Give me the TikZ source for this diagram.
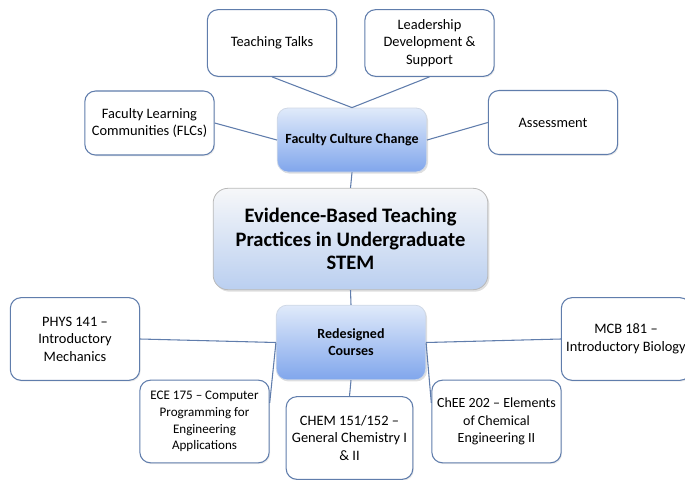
\documentclass[tikz,border=0pt]{standalone}
\usepackage{fontspec}
\setmainfont{Carlito}
\usetikzlibrary{shadows}

\definecolor{edgeblue}{RGB}{96,125,172}
\definecolor{hubtop}{RGB}{224,234,250}
\definecolor{hubbottom}{RGB}{128,166,236}
\definecolor{coretop}{RGB}{246,247,249}
\definecolor{corebottom}{RGB}{186,207,240}

\tikzset{
    leafbox/.style={draw=edgeblue, line width=0.8pt, fill=white, rounded corners=8pt,
        align=center, font=\fontsize{10.8}{13.2}\selectfont, inner sep=1pt,
        minimum width=97pt,
        drop shadow={shadow xshift=0.8pt, shadow yshift=-1pt, opacity=0.15}},
    hubbox/.style={draw=white!70!edgeblue, line width=0.6pt, rounded corners=8pt,
        top color=hubtop, bottom color=hubbottom, align=center,
        font=\bfseries\fontsize{10.5}{12.8}\selectfont,
        minimum width=112pt, minimum height=48pt,
        drop shadow={shadow xshift=1pt, shadow yshift=-1.2pt, opacity=0.25}},
    link/.style={draw=edgeblue, line width=0.8pt}
}

\begin{document}
\begin{tikzpicture}[
    % pixel grid of the reference: x goes right, y goes down
    x={(0.75pt,0pt)},
    y={(0pt,-0.75pt)}
]
    \useasboundingbox (0,0) rectangle (685,479);

    % --- Centres of the boxes ---
    \coordinate (pCore) at (350.5,239);
    \coordinate (pFaculty) at (352,140);
    \coordinate (pCourses) at (351,342.5);

    \coordinate (pTalks) at (272,43);
    \coordinate (pLead) at (429.5,43);
    \coordinate (pFLC) at (149.5,123);
    \coordinate (pAssess) at (553,122.5);

    \coordinate (pPhys) at (75,339);
    \coordinate (pMcb) at (626,339);
    \coordinate (pEce) at (204.5,421.5);
    \coordinate (pChem) at (349.5,438);
    \coordinate (pChee) at (496.5,421.5);

    % --- The main box ---
    \node[draw=gray!55, line width=0.6pt, rounded corners=11pt,
          top color=coretop, bottom color=corebottom, align=center,
          minimum width=206pt, minimum height=76pt,
          font=\bfseries\fontsize{15.4}{17.5}\selectfont,
          drop shadow={shadow xshift=1.2pt, shadow yshift=-1.5pt, opacity=0.25}]
        (core) at (pCore) {Evidence-Based Teaching\\Practices in Undergraduate\\STEM};

    % --- The two hubs ---
    \node[hubbox] (faculty) at (pFaculty) {Faculty Culture Change};
    \node[hubbox, minimum height=56pt] (courses) at (pCourses) {Redesigned\\Courses};

    % --- Faculty side ---
    \node[leafbox, minimum height=50pt] (talks) at (pTalks) {Teaching Talks};
    \node[leafbox, minimum height=50pt] (lead) at (pLead) {Leadership\\Development \&\\Support};
    \node[leafbox, minimum height=48pt] (flc) at (pFLC) {Faculty Learning\\Communities (FLCs)};
    \node[leafbox, minimum height=48pt] (assess) at (pAssess) {Assessment};

    % --- Course side ---
    \node[leafbox, minimum height=62pt] (phys) at (pPhys) {PHYS 141 --\\Introductory\\Mechanics};
    \node[leafbox, minimum height=62pt] (mcb) at (pMcb) {MCB 181 --\\Introductory Biology};
    \node[leafbox, minimum height=62pt, font=\fontsize{9.8}{12.6}\selectfont] (ece) at (pEce) {ECE 175 -- Computer\\Programming for\\Engineering\\Applications};
    \node[leafbox, minimum width=95pt, minimum height=62pt] (chem) at (pChem) {CHEM 151/152 --\\General Chemistry I\\\& II};
    \node[leafbox, minimum height=62pt, font=\fontsize{10.5}{13}\selectfont] (chee) at (pChee) {ChEE 202 -- Elements\\of Chemical\\Engineering II};

    % --- Connectors ---
    \draw[link] (talks.south) -- (faculty.north);
    \draw[link] (lead.south) -- (faculty.north);
    \draw[link] (flc.east) -- (faculty.west);
    \draw[link] (assess.west) -- (faculty.east);
    \draw[link] (faculty.south) -- (core.north);
    \draw[link] (core.south) -- (courses.north);

    \draw[link] (phys.east) -- (courses.west);
    \draw[link] (mcb.west) -- (courses.east);
    \draw[link] (ece.16) -- (courses.west);
    \draw[link] (chee.164) -- (courses.east);
    \draw[link] (courses.south) -- (chem.north);
\end{tikzpicture}
\end{document}
